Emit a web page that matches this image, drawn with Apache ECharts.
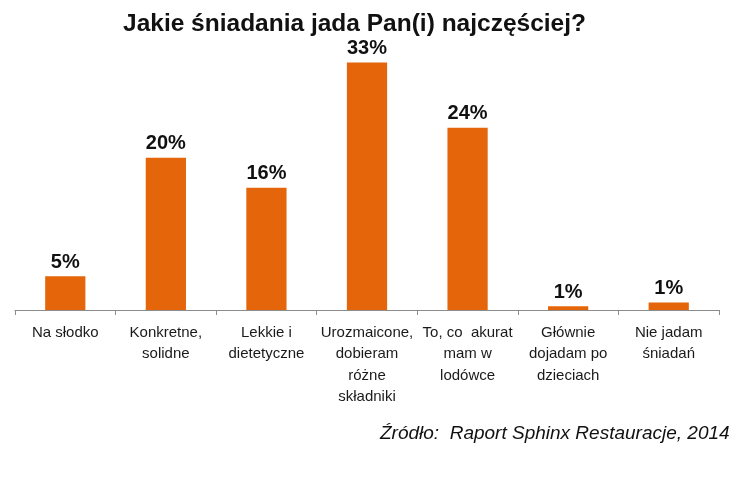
<!DOCTYPE html>
<html>
<head>
<meta charset="utf-8">
<script src="https://cdn.jsdelivr.net/npm/echarts@6/dist/echarts.min.js"></script>
<style>
html,body{margin:0;padding:0;background:#fff;}
#chart{width:749px;height:478px;}
</style>
</head>
<body>
<div id="chart"></div>
<script>
const categories = [
  "Na słodko",
  "Konkretne,\nsolidne",
  "Lekkie i\ndietetyczne",
  "Urozmaicone,\ndobieram\nróżne\nskładniki",
  "To, co  akurat\nmam w\nlodówce",
  "Głównie\ndojadam po\ndzieciach",
  "Nie jadam\nśniadań"
];
const values = [4.5, 20.3, 16.3, 33.0, 24.3, 0.5, 1.0];
const valueLabels = ["5%", "20%", "16%", "33%", "24%", "1%", "1%"];
const titleText = "Jakie śniadania jada Pan(i) najczęściej?";
const sourceText = "Źródło:  Raport Sphinx Restauracje, 2014";

const sans = '"Liberation Sans", Arial, sans-serif';
const chart = echarts.init(document.getElementById('chart'), null, {renderer: 'canvas'});
chart.setOption({
  backgroundColor: '#ffffff',
  animation: false,
  title: [
    {
      text: titleText,
      left: 118, top: 7,
      textStyle: {fontFamily: sans, fontSize: 24.5, fontWeight: 'bold', color: '#111'}
    },
    {
      text: sourceText,
      left: 375, top: 419,
      textStyle: {fontFamily: sans, fontSize: 19, fontStyle: 'italic', fontWeight: 'normal', color: '#111'}
    }
  ],
  grid: {left: 15, right: 30, top: 10, bottom: 168, containLabel: false},
  xAxis: {
    type: 'category',
    data: categories,
    axisLine: {show: true, lineStyle: {color: '#8c8c8c', width: 1}},
    axisTick: {show: true, length: 5, lineStyle: {color: '#8c8c8c'}},
    axisLabel: {
      interval: 0, margin: 12,
      fontFamily: sans, fontSize: 15,
      lineHeight: 21.5, color: '#1a1a1a'
    }
  },
  yAxis: {
    type: 'value', min: 0, max: 40,
    show: false,
    splitLine: {show: false}
  },
  series: [{
    type: 'bar',
    data: values,
    barWidth: '40%',
    itemStyle: {color: '#E5650A'},
    label: {
      show: true, position: 'top', distance: 4,
      formatter: p => valueLabels[p.dataIndex],
      fontFamily: sans, fontSize: 20, fontWeight: 'bold', color: '#111'
    }
  }]
});
</script>
</body>
</html>
